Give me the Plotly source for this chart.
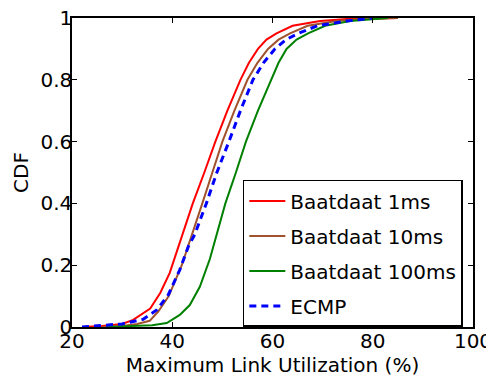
import plotly.graph_objects as go

# Baatdaat 1ms
red_x = [22, 26, 30, 32.2, 35.6, 37.6, 39.5, 41.2, 42.1, 44.1, 46.4, 48.6, 51.0, 53.6, 55.3, 57.1, 58.8, 60.8, 64, 69.5, 75, 85]
red_y = [0, 0.003, 0.01, 0.023, 0.06, 0.11, 0.175, 0.26, 0.3, 0.4, 0.5, 0.6, 0.7, 0.8, 0.855, 0.9, 0.93, 0.95, 0.975, 0.99, 0.997, 1.0]

# Baatdaat 10ms
brown_x = [26, 30, 33, 35.5, 37.2, 39.3, 41.9, 44.0, 46.0, 48.0, 50.0, 52.4, 55.0, 57.0, 59.1, 61.2, 63.5, 67, 72.8, 78, 85]
brown_y = [0, 0.003, 0.01, 0.02, 0.05, 0.1, 0.2, 0.3, 0.4, 0.5, 0.6, 0.7, 0.8, 0.855, 0.9, 0.93, 0.95, 0.975, 0.99, 0.997, 1.0]

# Baatdaat 100ms
green_x = [27, 32, 36, 38.9, 41.5, 43.5, 45.5, 47.5, 49.0, 50.6, 52.7, 54.7, 57.1, 59.8, 61.2, 62.8, 64.8, 67.1, 70.5, 75.5, 83]
green_y = [0, 0.002, 0.006, 0.013, 0.039, 0.071, 0.13, 0.22, 0.31, 0.4, 0.5, 0.6, 0.7, 0.8, 0.855, 0.9, 0.93, 0.95, 0.975, 0.99, 1.0]

# ECMP
blue_x = [22, 26, 30, 34.2, 36.9, 39.2, 41.5, 43.2, 44.5, 46.8, 48.9, 51.3, 53.6, 56.1, 58.2, 60.5, 62.7, 65.1, 69, 74.8, 80]
blue_y = [0, 0.004, 0.01, 0.025, 0.055, 0.104, 0.185, 0.26, 0.3, 0.4, 0.5, 0.6, 0.7, 0.8, 0.855, 0.9, 0.93, 0.95, 0.975, 0.99, 1.0]

x_ticks = [20, 40, 60, 80, 100]
x_tick_labels = ["20", "40", "60", "80", "100"]
y_ticks = [0, 0.2, 0.4, 0.6, 0.8, 1]
y_tick_labels = ["0", "0.2", "0.4", "0.6", "0.8", "1"]

FONT = "DejaVu Sans"

fig = go.Figure()
series = [
    ("Baatdaat 1ms", red_x, red_y, "#ff0000", "solid", 2),
    ("Baatdaat 10ms", brown_x, brown_y, "#a0522d", "solid", 2),
    ("Baatdaat 100ms", green_x, green_y, "#008000", "solid", 2),
    ("ECMP", blue_x, blue_y, "#0000ff", "7px,5px", 3),
]
for i, (name, xs, ys, col, dash, w) in enumerate(series):
    fig.add_trace(go.Scatter(
        x=xs, y=ys, mode="lines", name=name, legendgroup=f"g{i}",
        line=dict(color=col, width=w, dash=dash),
    ))

axis_common = dict(
    showgrid=False, zeroline=False, showline=True, linecolor="black", linewidth=1.5,
    mirror="ticks", ticks="inside", ticklen=5, tickwidth=1, tickcolor="black",
    tickfont=dict(family=FONT, size=20, color="black"), automargin=False,
    ticklabeloverflow="allow",
)

fig.update_layout(
    width=486, height=370,
    margin=dict(l=64, r=21, t=10, b=51),
    paper_bgcolor="white", plot_bgcolor="white",
    font=dict(family=FONT, color="black"),
    xaxis=dict(range=[20, 100], tickvals=x_ticks, ticktext=x_tick_labels,
               ticklabelstandoff=-5,
               title=dict(text="Maximum Link Utilization (%)", font=dict(family=FONT, size=20), standoff=0),
               **axis_common),
    yaxis=dict(range=[0, 1], tickvals=y_ticks, ticktext=y_tick_labels,
               ticklabelstandoff=-6,
               title=dict(text="CDF", font=dict(family=FONT, size=20), standoff=6),
               **axis_common),
    legend=dict(x=0.426, y=0.476, xanchor="left", yanchor="top",
                bordercolor="black", borderwidth=1.5, bgcolor="white",
                font=dict(family=FONT, size=20, color="black"),
                tracegroupgap=6, traceorder="grouped", itemwidth=36),
    showlegend=True,
)

fig.write_html("out.html")
